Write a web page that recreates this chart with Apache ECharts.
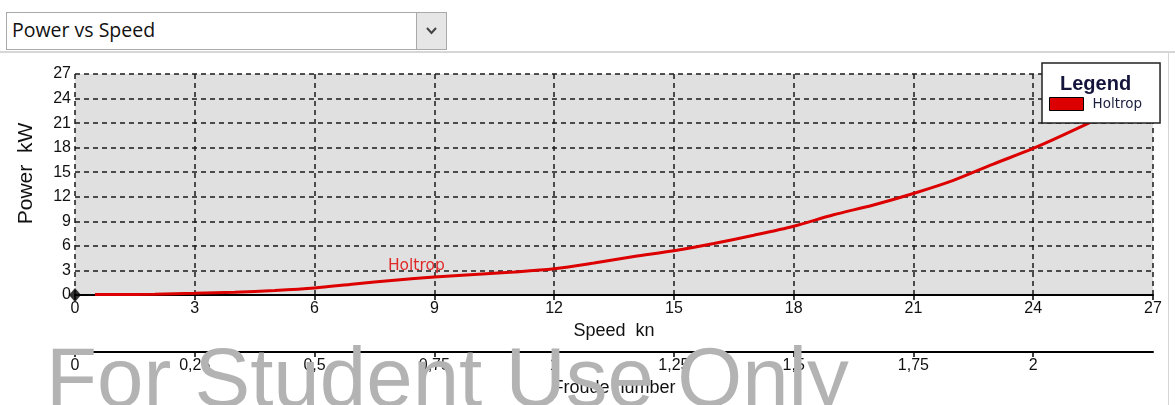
<!DOCTYPE html>
<html>
<head>
<meta charset="utf-8">
<script src="https://cdn.jsdelivr.net/npm/echarts@6/dist/echarts.min.js"></script>
<style>
  html, body { margin: 0; padding: 0; background: #fff; }
  #wrap { position: relative; width: 1175px; height: 405px; overflow: hidden; }
  #chart { position: absolute; left: 0; top: 0; width: 1175px; height: 405px; }
  #combo {
    position: absolute; left: 6px; top: 12px; width: 439px; height: 36px;
    border: 1px solid #a9a9a9; background: #fff; box-sizing: content-box;
    font-family: "Open Sans", "Noto Sans", sans-serif; font-size: 19.5px; color: #111;
  }
  #combo span { position: absolute; left: 5px; top: 3px; }
  #combo .btn {
    position: absolute; right: 0; top: 0; width: 29px; height: 36px;
    border-left: 1px solid #a9a9a9; background: #e6e6e6;
  }
  #combo .btn svg { position: absolute; left: 9px; top: 14px; }
  #hline { position: absolute; left: 0; top: 51px; width: 1175px; height: 2px; background: #d6d6d6; }
  #vline { position: absolute; left: 1168px; top: 53px; width: 1px; height: 352px; background: #d6d6d6; }
</style>
</head>
<body>
<div id="wrap">
  <div id="chart"></div>
  <div id="hline"></div>
  <div id="vline"></div>
  <div id="combo"><span>Power vs Speed</span><div class="btn"><svg width="11" height="8"><polyline points="1,1 5.5,6 10,1" fill="none" stroke="#444" stroke-width="2"/></svg></div></div>
</div>
<script>
// speed in knots and delivered power in kW
const speedKn = [0.5, 1, 2, 3, 4, 5, 6, 7, 8, 9, 10, 11, 12, 13, 14, 15, 16, 17, 18, 19, 20, 21, 22, 23, 24, 25, 26, 27];
const powerKw = [0.05, 0.05, 0.1, 0.2, 0.35, 0.55, 0.85, 1.35, 1.8, 2.2, 2.5, 2.8, 3.2, 3.9, 4.7, 5.4, 6.3, 7.3, 8.4, 9.8, 11.0, 12.4, 14.0, 16.0, 17.9, 20.1, 22.5, 25.2];
const seriesName = "Holtrop";

const chart = echarts.init(document.getElementById("chart"));
const font = "Liberation Sans, Arial, sans-serif";
const wideFont = "DejaVu Sans, Verdana, sans-serif";
const dashed = { color: "#1a1a1a", width: 1.5, type: [5, 4] };

chart.setOption({
  animation: false,
  title: {
    text: "Legend", left: 1055, top: 69,
    textStyle: { fontFamily: font, fontSize: 20, fontWeight: "bold", color: "#14143c" }
  },
  legend: {
    data: [seriesName], left: 1042, top: 63, orient: "vertical",
    padding: [34, 18, 12, 7],
    backgroundColor: "#fff", borderColor: "#222", borderWidth: 1.5,
    itemWidth: 34, itemHeight: 13, itemGap: 6, icon: "rect",
    itemStyle: { borderColor: "#000", borderWidth: 1 },
    textStyle: { fontFamily: wideFont, fontSize: 13.5, color: "#1c2040", padding: [0, 0, 0, 4] }
  },
  grid: {
    left: 75, right: 22, top: 74, bottom: 110,
    show: true, backgroundColor: "#e0e0e0", borderWidth: 0
  },
  xAxis: [
    {
      type: "value", min: 0, max: 27, interval: 3,
      name: "Speed  kn", nameLocation: "middle", nameGap: 24,
      nameTextStyle: { fontFamily: font, fontSize: 18, color: "#111" },
      axisLine: { lineStyle: { color: "#000", width: 2 } },
      axisTick: { length: 5, lineStyle: { color: "#000", width: 1.5 } },
      axisLabel: { fontFamily: font, fontSize: 16, color: "#111", margin: 6 },
      splitLine: { lineStyle: dashed }
    },
    {
      type: "value", position: "bottom", offset: 57, min: 0, max: 2.25, interval: 0.25,
      name: "Froude number", nameLocation: "middle", nameGap: 23,
      nameTextStyle: { fontFamily: font, fontSize: 18, color: "#111" },
      axisLine: { lineStyle: { color: "#000", width: 2 } },
      axisTick: { length: 5, lineStyle: { color: "#000", width: 1.5 } },
      axisLabel: {
        fontFamily: font, fontSize: 16, color: "#111", margin: 6, showMaxLabel: false,
        formatter: (v) => String(v).replace(".", ",")
      },
      splitLine: { show: false }
    }
  ],
  yAxis: {
    type: "value", min: 0, max: 27, interval: 3,
    name: "Power  kW", nameLocation: "middle", nameGap: 38,
    nameTextStyle: { fontFamily: font, fontSize: 21, color: "#111", padding: [0, 0, 0, 22] },
    axisLine: { show: false },
    axisTick: { show: false },
    axisLabel: { fontFamily: font, fontSize: 16, color: "#111", margin: 4 },
    splitLine: { lineStyle: dashed }
  },
  series: [
    {
      name: seriesName, type: "line", xAxisIndex: 0,
      data: speedKn.map((s, i) => [s, powerKw[i]]),
      showSymbol: false, smooth: 0.3,
      lineStyle: { color: "#dd0000", width: 3 },
      itemStyle: { color: "#dd0000" },
      markPoint: {
        symbol: "circle", symbolSize: 1, itemStyle: { color: "rgba(0,0,0,0)" },
        label: { show: true, position: "inside", formatter: seriesName, fontFamily: wideFont, fontSize: 15.5, color: "#e02a2a" },
        data: [{ coord: [8.55, 3.55] }]
      }
    },
    {
      name: "origin", type: "scatter", xAxisIndex: 0, clip: false,
      data: [[0, 0]], symbol: "diamond", symbolSize: [12, 14],
      itemStyle: { color: "#000" }
    }
  ],
  graphic: [
    {
      type: "text", left: 46, top: 341, z: 100, silent: true,
      style: { text: "For Student Use Only", font: "83.5px Liberation Sans, Arial, sans-serif", fill: "#b3b3b3" }
    }
  ]
});
</script>
</body>
</html>
